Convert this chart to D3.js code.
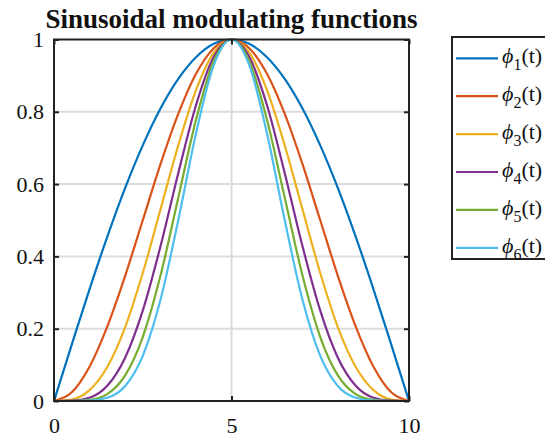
<!DOCTYPE html>
<html>
<head>
<meta charset="utf-8">
<script src="https://cdn.jsdelivr.net/npm/d3@7"></script>
<style>
body { margin: 0; background: #fff; }
text { font-family: "Liberation Serif", "Times New Roman", serif; }
</style>
</head>
<body>
<div id="chart"></div>
<script>
// sample points (t) and values
var tValues = [0, 0.5, 1, 1.5, 2, 2.5, 3, 3.5, 4, 4.5, 5, 5.5, 6, 6.5, 7, 7.5, 8, 8.5, 9, 9.5, 10];
var phi1 = [0, 0.156, 0.309, 0.454, 0.588, 0.707, 0.809, 0.891, 0.951, 0.988, 1, 0.988, 0.951, 0.891, 0.809, 0.707, 0.588, 0.454, 0.309, 0.156, 0];
var phi2 = [0, 0.024, 0.095, 0.206, 0.345, 0.5, 0.655, 0.794, 0.905, 0.976, 1, 0.976, 0.905, 0.794, 0.655, 0.5, 0.345, 0.206, 0.095, 0.024, 0];
var phi3 = [0, 0.004, 0.030, 0.094, 0.203, 0.354, 0.530, 0.707, 0.860, 0.964, 1, 0.964, 0.860, 0.707, 0.530, 0.354, 0.203, 0.094, 0.030, 0.004, 0];
var phi4 = [0, 0.001, 0.009, 0.042, 0.119, 0.25, 0.428, 0.630, 0.818, 0.952, 1, 0.952, 0.818, 0.630, 0.428, 0.25, 0.119, 0.042, 0.009, 0.001, 0];
var phi5 = [0, 0.0001, 0.003, 0.019, 0.070, 0.177, 0.347, 0.562, 0.778, 0.940, 1, 0.940, 0.778, 0.562, 0.347, 0.177, 0.070, 0.019, 0.003, 0.0001, 0];
var phi6 = [0, 0, 0.001, 0.009, 0.041, 0.125, 0.280, 0.500, 0.740, 0.929, 1, 0.929, 0.740, 0.500, 0.280, 0.125, 0.041, 0.009, 0.001, 0, 0];
var seriesNames = ['1', '2', '3', '4', '5', '6'];
var seriesColors = ['#0072BD', '#D95319', '#EDB120', '#7E2F8E', '#77AC30', '#4DBEEE'];
var xTicks = [0, 5, 10];
var yTicks = [0, 0.2, 0.4, 0.6, 0.8, 1];
var titleText = 'Sinusoidal modulating functions';

var allSeries = [phi1, phi2, phi3, phi4, phi5, phi6];

var svg = d3.select('#chart').append('svg')
    .attr('width', 545)
    .attr('height', 439);

var plotLeft = 54, plotRight = 409, plotTop = 39.5, plotBottom = 401;

var x = d3.scaleLinear().domain([0, 10]).range([plotLeft, plotRight]);
var y = d3.scaleLinear().domain([0, 1]).range([plotBottom, plotTop]);

// grid
svg.append('g').selectAll('line')
    .data(xTicks.filter(function(d) { return d > 0 && d < 10; }))
    .enter().append('line')
    .attr('x1', function(d) { return x(d); })
    .attr('x2', function(d) { return x(d); })
    .attr('y1', plotTop).attr('y2', plotBottom)
    .attr('stroke', '#dcdcdc').attr('stroke-width', 2);
svg.append('g').selectAll('line')
    .data(yTicks.filter(function(d) { return d > 0 && d < 1; }))
    .enter().append('line')
    .attr('y1', function(d) { return y(d); })
    .attr('y2', function(d) { return y(d); })
    .attr('x1', plotLeft).attr('x2', plotRight)
    .attr('stroke', '#dcdcdc').attr('stroke-width', 2);

// curves
var line = d3.line()
    .x(function(d, i) { return x(tValues[i]); })
    .y(function(d) { return y(d); })
    .curve(d3.curveMonotoneX);

svg.append('g').selectAll('path')
    .data(allSeries)
    .enter().append('path')
    .attr('d', line)
    .attr('fill', 'none')
    .attr('stroke', function(d, i) { return seriesColors[i]; })
    .attr('stroke-width', 2.2);

// axes (ticks inward on all four sides)
var xAxisB = d3.axisBottom(x).tickValues(xTicks).tickSizeInner(-5).tickSizeOuter(0).tickPadding(16).tickFormat(d3.format('d'));
var xAxisT = d3.axisTop(x).tickValues(xTicks).tickSizeInner(-5).tickSizeOuter(0).tickFormat('');
var yAxisL = d3.axisLeft(y).tickValues(yTicks).tickSizeInner(-5).tickSizeOuter(0).tickPadding(10).tickFormat(function(d) { return String(d); });
var yAxisR = d3.axisRight(y).tickValues(yTicks).tickSizeInner(-5).tickSizeOuter(0).tickFormat('');

function styleAxis(g) {
    g.attr('font-family', null);
    g.select('.domain').remove();
    g.selectAll('line').attr('stroke', '#222').attr('stroke-width', 2);
    g.selectAll('text').attr('fill', '#111').style('font-size', '22px');
}
svg.append('g').attr('transform', 'translate(0,' + plotBottom + ')').call(xAxisB).call(styleAxis);
svg.append('g').attr('transform', 'translate(0,' + plotTop + ')').call(xAxisT).call(styleAxis);
svg.append('g').attr('transform', 'translate(' + plotLeft + ',0)').call(yAxisL).call(styleAxis);
svg.append('g').attr('transform', 'translate(' + plotRight + ',0)').call(yAxisR).call(styleAxis);

svg.append('rect')
    .attr('x', plotLeft).attr('y', plotTop)
    .attr('width', plotRight - plotLeft).attr('height', plotBottom - plotTop)
    .attr('fill', 'none').attr('stroke', '#222').attr('stroke-width', 2);

// title
svg.append('text')
    .attr('x', (plotLeft + plotRight) / 2).attr('y', 28)
    .attr('text-anchor', 'middle')
    .style('font-size', '27px').style('font-weight', 'bold')
    .attr('fill', '#111')
    .text(titleText);

// legend
var legend = svg.append('g');
legend.append('rect')
    .attr('x', 452).attr('y', 37)
    .attr('width', 110).attr('height', 222)
    .attr('fill', '#fff').attr('stroke', '#222').attr('stroke-width', 2);

var item = legend.selectAll('g')
    .data(seriesNames)
    .enter().append('g')
    .attr('transform', function(d, i) { return 'translate(0,' + (58.3 + i * 37.9) + ')'; });
item.append('line')
    .attr('x1', 456).attr('x2', 498)
    .attr('stroke', function(d, i) { return seriesColors[i]; })
    .attr('stroke-width', 2.2);
var lt = item.append('text')
    .attr('x', 502).attr('y', 5)
    .attr('fill', '#111')
    .style('font-size', '22px');
lt.append('tspan').style('font-style', 'italic').text('\u03D5');
lt.append('tspan').attr('dy', 7).style('font-size', '16px').text(function(d) { return d; });
lt.append('tspan').attr('dy', -7).text('(t)');
</script>
</body>
</html>
